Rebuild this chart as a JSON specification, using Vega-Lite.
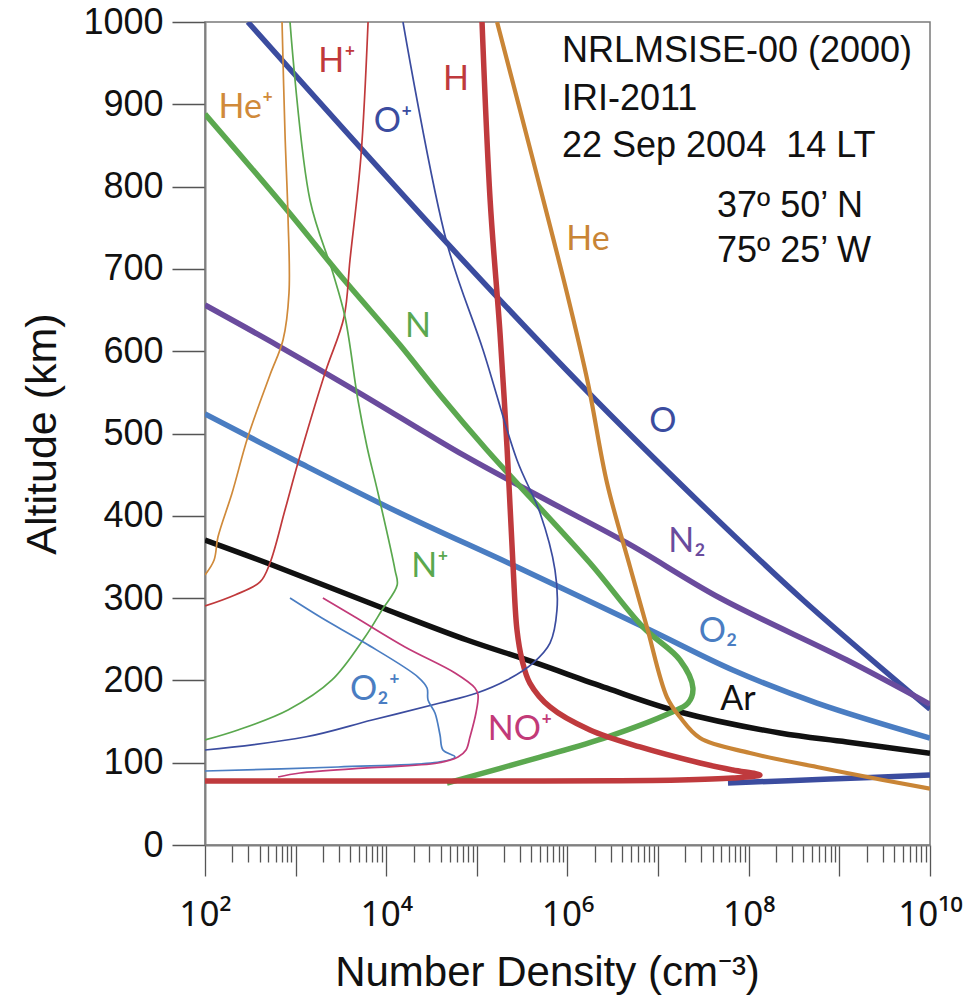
{
  "$schema": "https://vega.github.io/schema/vega-lite/v6.json",
  "width": 725,
  "height": 823,
  "autosize": {"type": "none"},
  "padding": {"left": 205, "top": 22, "right": 41, "bottom": 152},
  "background": "white",
  "config": {
    "view": {"stroke": "#7a7a7a", "strokeWidth": 1.5},
    "font": "Liberation Sans",
    "axis": {"grid": false, "domainColor": "#808080", "domainWidth": 2, "tickColor": "#555555", "tickWidth": 1.3, "labelColor": "#111111", "titleColor": "#111111", "titleFontWeight": "normal", "labelFont": "Liberation Sans", "titleFont": "Liberation Sans"}
  },
  "datasets": {
    "curves": [
      {"sp": "O", "seg": "O1", "i": 1, "n": 297, "alt": 1000},
      {"sp": "O", "seg": "O1", "i": 2, "n": 46700, "alt": 731.5},
      {"sp": "O", "seg": "O1", "i": 3, "n": 1480000, "alt": 556.5},
      {"sp": "O", "seg": "O1", "i": 4, "n": 29000000, "alt": 415.6},
      {"sp": "O", "seg": "O1", "i": 5, "n": 397000000, "alt": 297.7},
      {"sp": "O", "seg": "O1", "i": 6, "n": 10000000000, "alt": 165},
      {"sp": "O", "seg": "O2", "i": 1, "n": 59000000, "alt": 75.3},
      {"sp": "O", "seg": "O2", "i": 2, "n": 789000000, "alt": 80.2},
      {"sp": "O", "seg": "O2", "i": 3, "n": 10000000000, "alt": 85},

      {"sp": "N2", "seg": "N2", "i": 1, "n": 100, "alt": 656.1},
      {"sp": "N2", "seg": "N2", "i": 2, "n": 622, "alt": 607.5},
      {"sp": "N2", "seg": "N2", "i": 3, "n": 4870, "alt": 550.4},
      {"sp": "N2", "seg": "N2", "i": 4, "n": 73900, "alt": 472.7},
      {"sp": "N2", "seg": "N2", "i": 5, "n": 641000, "alt": 416.8},
      {"sp": "N2", "seg": "N2", "i": 6, "n": 4540000, "alt": 367.0},
      {"sp": "N2", "seg": "N2", "i": 7, "n": 48200000, "alt": 300.1},
      {"sp": "N2", "seg": "N2", "i": 8, "n": 1210000000, "alt": 224.8},
      {"sp": "N2", "seg": "N2", "i": 9, "n": 10000000000, "alt": 171},

      {"sp": "O2", "seg": "O2m", "i": 1, "n": 100, "alt": 523.7},
      {"sp": "O2", "seg": "O2m", "i": 2, "n": 1060, "alt": 465.4},
      {"sp": "O2", "seg": "O2m", "i": 3, "n": 14200, "alt": 403.4},
      {"sp": "O2", "seg": "O2m", "i": 4, "n": 277000, "alt": 337.8},
      {"sp": "O2", "seg": "O2m", "i": 5, "n": 8130000, "alt": 261.2},
      {"sp": "O2", "seg": "O2m", "i": 6, "n": 66600000, "alt": 212.6},
      {"sp": "O2", "seg": "O2m", "i": 7, "n": 566000000, "alt": 172.5},
      {"sp": "O2", "seg": "O2m", "i": 8, "n": 10000000000, "alt": 130},

      {"sp": "Ar", "seg": "Ar", "i": 1, "n": 100, "alt": 370.6},
      {"sp": "Ar", "seg": "Ar", "i": 2, "n": 483, "alt": 342.6},
      {"sp": "Ar", "seg": "Ar", "i": 3, "n": 8520, "alt": 289.2},
      {"sp": "Ar", "seg": "Ar", "i": 4, "n": 77800, "alt": 249.1},
      {"sp": "Ar", "seg": "Ar", "i": 5, "n": 416000, "alt": 222.4},
      {"sp": "Ar", "seg": "Ar", "i": 6, "n": 2730000, "alt": 190.5},
      {"sp": "Ar", "seg": "Ar", "i": 7, "n": 17400000, "alt": 161.6},
      {"sp": "Ar", "seg": "Ar", "i": 8, "n": 221000000, "alt": 136.1},
      {"sp": "Ar", "seg": "Ar", "i": 9, "n": 1210000000, "alt": 125.2},
      {"sp": "Ar", "seg": "Ar", "i": 10, "n": 10000000000, "alt": 111.3},

      {"sp": "N", "seg": "N", "i": 1, "n": 100, "alt": 888.2},
      {"sp": "N", "seg": "N", "i": 2, "n": 803, "alt": 771.6},
      {"sp": "N", "seg": "N", "i": 3, "n": 3090, "alt": 692.6},
      {"sp": "N", "seg": "N", "i": 4, "n": 14200, "alt": 607.5},
      {"sp": "N", "seg": "N", "i": 5, "n": 39200, "alt": 546.8},
      {"sp": "N", "seg": "N", "i": 6, "n": 129000, "alt": 480.0},
      {"sp": "N", "seg": "N", "i": 7, "n": 1770000, "alt": 342.6},
      {"sp": "N", "seg": "N", "i": 8, "n": 6800000, "alt": 264.9},
      {"sp": "N", "seg": "N", "i": 9, "n": 17400000, "alt": 224.8},
      {"sp": "N", "seg": "N", "i": 10, "n": 24200000, "alt": 190.8},
      {"sp": "N", "seg": "N", "i": 11, "n": 21400000, "alt": 172.5},
      {"sp": "N", "seg": "N", "i": 12, "n": 13500000, "alt": 160.4},
      {"sp": "N", "seg": "N", "i": 13, "n": 2730000, "alt": 131.2},
      {"sp": "N", "seg": "N", "i": 14, "n": 498000, "alt": 106.9},
      {"sp": "N", "seg": "N", "i": 15, "n": 46700, "alt": 75.3},

      {"sp": "He", "seg": "He", "i": 1, "n": 167000, "alt": 1000},
      {"sp": "He", "seg": "He", "i": 2, "n": 416000, "alt": 832.3},
      {"sp": "He", "seg": "He", "i": 3, "n": 986000, "alt": 670.7},
      {"sp": "He", "seg": "He", "i": 4, "n": 1680000, "alt": 561.4},
      {"sp": "He", "seg": "He", "i": 5, "n": 2730000, "alt": 439.9},
      {"sp": "He", "seg": "He", "i": 6, "n": 4900000, "alt": 337.8},
      {"sp": "He", "seg": "He", "i": 7, "n": 7520000, "alt": 264.9},
      {"sp": "He", "seg": "He", "i": 8, "n": 12500000, "alt": 179.8},
      {"sp": "He", "seg": "He", "i": 9, "n": 17400000, "alt": 155.5},
      {"sp": "He", "seg": "He", "i": 10, "n": 29000000, "alt": 130.0},
      {"sp": "He", "seg": "He", "i": 11, "n": 103000000, "alt": 111.8},
      {"sp": "He", "seg": "He", "i": 12, "n": 566000000, "alt": 94.8},
      {"sp": "He", "seg": "He", "i": 13, "n": 3020000000, "alt": 79.0},
      {"sp": "He", "seg": "He", "i": 14, "n": 10000000000, "alt": 68.5},

      {"sp": "H", "seg": "H", "i": 1, "n": 114000, "alt": 1000},
      {"sp": "H", "seg": "H", "i": 2, "n": 140000, "alt": 783.7},
      {"sp": "H", "seg": "H", "i": 3, "n": 180000, "alt": 622.1},
      {"sp": "H", "seg": "H", "i": 4, "n": 215000, "alt": 483.6},
      {"sp": "H", "seg": "H", "i": 5, "n": 251000, "alt": 337.8},
      {"sp": "H", "seg": "H", "i": 6, "n": 277000, "alt": 261.2},
      {"sp": "H", "seg": "H", "i": 7, "n": 315000, "alt": 224.8},
      {"sp": "H", "seg": "H", "i": 8, "n": 384000, "alt": 196.8},
      {"sp": "H", "seg": "H", "i": 9, "n": 641000, "alt": 167.7},
      {"sp": "H", "seg": "H", "i": 10, "n": 1770000, "alt": 139.7},
      {"sp": "H", "seg": "H", "i": 11, "n": 6310000, "alt": 119.1},
      {"sp": "H", "seg": "H", "i": 12, "n": 29000000, "alt": 99.6},
      {"sp": "H", "seg": "H", "i": 13, "n": 66600000, "alt": 91.1},
      {"sp": "H", "seg": "H", "i": 14, "n": 133000000, "alt": 85.1},
      {"sp": "H", "seg": "H", "i": 15, "n": 66600000, "alt": 81.4},
      {"sp": "H", "seg": "H", "i": 16, "n": 17400000, "alt": 79.0},
      {"sp": "H", "seg": "H", "i": 17, "n": 180000, "alt": 77.8},
      {"sp": "H", "seg": "H", "i": 18, "n": 100, "alt": 77.8},

      {"sp": "O+", "seg": "O+", "i": 1, "n": 15300, "alt": 1000},
      {"sp": "O+", "seg": "O+", "i": 2, "n": 46700, "alt": 731.5},
      {"sp": "O+", "seg": "O+", "i": 3, "n": 117000, "alt": 601.5},
      {"sp": "O+", "seg": "O+", "i": 4, "n": 277000, "alt": 467.8},
      {"sp": "O+", "seg": "O+", "i": 5, "n": 498000, "alt": 403.4},
      {"sp": "O+", "seg": "O+", "i": 6, "n": 728000, "alt": 334.1},
      {"sp": "O+", "seg": "O+", "i": 7, "n": 765000, "alt": 285.5},
      {"sp": "O+", "seg": "O+", "i": 8, "n": 641000, "alt": 245.4},
      {"sp": "O+", "seg": "O+", "i": 9, "n": 416000, "alt": 221.1},
      {"sp": "O+", "seg": "O+", "i": 10, "n": 215000, "alt": 200.5},
      {"sp": "O+", "seg": "O+", "i": 11, "n": 100000, "alt": 184.7},
      {"sp": "O+", "seg": "O+", "i": 12, "n": 39200, "alt": 172.5},
      {"sp": "O+", "seg": "O+", "i": 13, "n": 6970, "alt": 151.9},
      {"sp": "O+", "seg": "O+", "i": 14, "n": 1270, "alt": 131.2},
      {"sp": "O+", "seg": "O+", "i": 15, "n": 100, "alt": 115.4},

      {"sp": "H+", "seg": "H+", "i": 1, "n": 6300, "alt": 1000},
      {"sp": "H+", "seg": "H+", "i": 2, "n": 5250, "alt": 836.0},
      {"sp": "H+", "seg": "H+", "i": 3, "n": 3980, "alt": 710.8},
      {"sp": "H+", "seg": "H+", "i": 4, "n": 3420, "alt": 641.6},
      {"sp": "H+", "seg": "H+", "i": 5, "n": 2110, "alt": 573.5},
      {"sp": "H+", "seg": "H+", "i": 6, "n": 1060, "alt": 464.2},
      {"sp": "H+", "seg": "H+", "i": 7, "n": 763, "alt": 407.0},
      {"sp": "H+", "seg": "H+", "i": 8, "n": 521, "alt": 342.6},
      {"sp": "H+", "seg": "H+", "i": 9, "n": 405, "alt": 319.6},
      {"sp": "H+", "seg": "H+", "i": 10, "n": 214, "alt": 303.8},
      {"sp": "H+", "seg": "H+", "i": 11, "n": 100, "alt": 290.4},

      {"sp": "He+", "seg": "He+", "i": 1, "n": 708, "alt": 1000},
      {"sp": "He+", "seg": "He+", "i": 2, "n": 763, "alt": 865.1},
      {"sp": "He+", "seg": "He+", "i": 3, "n": 824, "alt": 763.1},
      {"sp": "He+", "seg": "He+", "i": 4, "n": 845, "alt": 670.7},
      {"sp": "He+", "seg": "He+", "i": 5, "n": 726, "alt": 613.6},
      {"sp": "He+", "seg": "He+", "i": 6, "n": 521, "alt": 571.1},
      {"sp": "He+", "seg": "He+", "i": 7, "n": 297, "alt": 495.7},
      {"sp": "He+", "seg": "He+", "i": 8, "n": 199, "alt": 427.7},
      {"sp": "He+", "seg": "He+", "i": 9, "n": 139, "alt": 374.2},
      {"sp": "He+", "seg": "He+", "i": 10, "n": 126, "alt": 346.3},
      {"sp": "He+", "seg": "He+", "i": 11, "n": 100, "alt": 328.1},

      {"sp": "N+", "seg": "N+", "i": 1, "n": 867, "alt": 1000},
      {"sp": "N+", "seg": "N+", "i": 2, "n": 1440, "alt": 783.7},
      {"sp": "N+", "seg": "N+", "i": 3, "n": 2580, "alt": 695.0},
      {"sp": "N+", "seg": "N+", "i": 4, "n": 3510, "alt": 641.6},
      {"sp": "N+", "seg": "N+", "i": 5, "n": 4870, "alt": 540.7},
      {"sp": "N+", "seg": "N+", "i": 6, "n": 6140, "alt": 483.6},
      {"sp": "N+", "seg": "N+", "i": 7, "n": 8110, "alt": 427.7},
      {"sp": "N+", "seg": "N+", "i": 8, "n": 12500, "alt": 334.1},
      {"sp": "N+", "seg": "N+", "i": 9, "n": 13200, "alt": 315.9},
      {"sp": "N+", "seg": "N+", "i": 10, "n": 8970, "alt": 285.5},
      {"sp": "N+", "seg": "N+", "i": 11, "n": 5830, "alt": 252.7},
      {"sp": "N+", "seg": "N+", "i": 12, "n": 2520, "alt": 200.5},
      {"sp": "N+", "seg": "N+", "i": 13, "n": 824, "alt": 164.0},
      {"sp": "N+", "seg": "N+", "i": 14, "n": 231, "alt": 139.7},
      {"sp": "N+", "seg": "N+", "i": 15, "n": 100, "alt": 127.6},

      {"sp": "O2+", "seg": "O2+", "i": 1, "n": 867, "alt": 300.1},
      {"sp": "O2+", "seg": "O2+", "i": 2, "n": 1950, "alt": 275.8},
      {"sp": "O2+", "seg": "O2+", "i": 3, "n": 5830, "alt": 245.4},
      {"sp": "O2+", "seg": "O2+", "i": 4, "n": 22400, "alt": 204.1},
      {"sp": "O2+", "seg": "O2+", "i": 5, "n": 28200, "alt": 190.8},
      {"sp": "O2+", "seg": "O2+", "i": 6, "n": 28900, "alt": 176.2},
      {"sp": "O2+", "seg": "O2+", "i": 7, "n": 34500, "alt": 160.4},
      {"sp": "O2+", "seg": "O2+", "i": 8, "n": 39200, "alt": 133.7},
      {"sp": "O2+", "seg": "O2+", "i": 9, "n": 42200, "alt": 115.4},
      {"sp": "O2+", "seg": "O2+", "i": 10, "n": 57400, "alt": 106.9},
      {"sp": "O2+", "seg": "O2+", "i": 11, "n": 39200, "alt": 100.9},
      {"sp": "O2+", "seg": "O2+", "i": 12, "n": 2940, "alt": 94.8},
      {"sp": "O2+", "seg": "O2+", "i": 13, "n": 100, "alt": 89.9},

      {"sp": "NO+", "seg": "NO+", "i": 1, "n": 2000, "alt": 300.1},
      {"sp": "NO+", "seg": "NO+", "i": 2, "n": 4520, "alt": 277.0},
      {"sp": "NO+", "seg": "NO+", "i": 3, "n": 16100, "alt": 240.6},
      {"sp": "NO+", "seg": "NO+", "i": 4, "n": 57400, "alt": 209.0},
      {"sp": "NO+", "seg": "NO+", "i": 5, "n": 95200, "alt": 190.8},
      {"sp": "NO+", "seg": "NO+", "i": 6, "n": 103000, "alt": 182.3},
      {"sp": "NO+", "seg": "NO+", "i": 7, "n": 97700, "alt": 160.4},
      {"sp": "NO+", "seg": "NO+", "i": 8, "n": 83900, "alt": 131.2},
      {"sp": "NO+", "seg": "NO+", "i": 9, "n": 75900, "alt": 115.4},
      {"sp": "NO+", "seg": "NO+", "i": 10, "n": 61900, "alt": 106.9},
      {"sp": "NO+", "seg": "NO+", "i": 11, "n": 37200, "alt": 99.6},
      {"sp": "NO+", "seg": "NO+", "i": 12, "n": 6140, "alt": 93.6},
      {"sp": "NO+", "seg": "NO+", "i": 13, "n": 1120, "alt": 87.5},
      {"sp": "NO+", "seg": "NO+", "i": 14, "n": 640, "alt": 82.6}
    ],
    "labels": [
      {"sp": "He+", "label": "He⁺", "n": 283, "alt": 895.5},
      {"sp": "H+", "label": "H⁺", "n": 2860, "alt": 951.4},
      {"sp": "O+", "label": "O⁺", "n": 11900, "alt": 878.5},
      {"sp": "H", "label": "H", "n": 58900, "alt": 929.5},
      {"sp": "N", "label": "N", "n": 22400, "alt": 629.4},
      {"sp": "He", "label": "He", "n": 1680000, "alt": 735.1},
      {"sp": "O", "label": "O", "n": 11300000, "alt": 514.0},
      {"sp": "N2", "label": "N₂", "n": 20800000, "alt": 368.2},
      {"sp": "O2", "label": "O₂", "n": 45800000, "alt": 258.8},
      {"sp": "Ar", "label": "Ar", "n": 76000000, "alt": 176.2},
      {"sp": "N+", "label": "N⁺", "n": 30400, "alt": 337.8},
      {"sp": "O2+", "label": "O₂⁺", "n": 7520, "alt": 188.3},
      {"sp": "NO+", "label": "NO⁺", "n": 299000, "alt": 139.7}
    ],
    "notes": [
      {"text": "NRLMSISE-00 (2000)", "n": 869000, "alt": 951},
      {"text": "IRI-2011", "n": 869000, "alt": 893},
      {"text": "22 Sep 2004\u00a0\u00a014 LT", "n": 869000, "alt": 836},
      {"text": "37º 50’ N", "n": 44700000, "alt": 763},
      {"text": "75º 25’ W", "n": 44700000, "alt": 708}
    ]
  },
  "layer": [
    {
      "data": {"name": "curves"},
      "transform": [{"filter": {"field": "sp", "oneOf": ["O", "N2", "O2", "Ar", "N", "H"]}}],
      "mark": {"type": "line", "clip": true, "strokeWidth": 5.5, "strokeJoin": "round", "interpolate": "catmull-rom"},
      "encoding": {
        "x": {
          "field": "n", "type": "quantitative",
          "scale": {"type": "log", "domain": [100, 10000000000], "nice": false},
          "axis": {
            "title": "Number Density (cm⁻³)",
            "values": [100,200,300,400,500,600,700,800,900,1000,2000,3000,4000,5000,6000,7000,8000,9000,10000,20000,30000,40000,50000,60000,70000,80000,90000,100000,200000,300000,400000,500000,600000,700000,800000,900000,1000000,2000000,3000000,4000000,5000000,6000000,7000000,8000000,9000000,10000000,20000000,30000000,40000000,50000000,60000000,70000000,80000000,90000000,100000000,200000000,300000000,400000000,500000000,600000000,700000000,800000000,900000000,1000000000,2000000000,3000000000,4000000000,5000000000,6000000000,7000000000,8000000000,9000000000,10000000000],
            "tickSize": {"condition": {"test": "abs(log(datum.value)/LN10 - round(log(datum.value)/LN10)) < 0.001", "value": 31}, "value": 17},
            "labelExpr": "datum.value == 100 ? '10²' : datum.value == 10000 ? '10⁴' : datum.value == 1000000 ? '10⁶' : datum.value == 100000000 ? '10⁸' : datum.value == 10000000000 ? '10¹⁰' : ''",
            "labelOverlap": false, "labelFlush": false, "labelBound": false,
            "labelFont": "Noto Sans",
            "labelFontSize": 35, "labelPadding": 21,
            "titleFontSize": 42, "titlePadding": 20,
            "titleAnchor": "middle", "titleX": 342
          }
        },
        "y": {
          "field": "alt", "type": "quantitative",
          "scale": {"domain": [0, 1000], "nice": false},
          "axis": {
            "title": "Altitude (km)",
            "format": "d",
            "values": [0,100,200,300,400,500,600,700,800,900,1000],
            "tickSize": 33, "labelFontSize": 36, "labelPadding": 9,
            "titleFontSize": 43, "titlePadding": 18
          }
        },
        "color": {
          "field": "sp", "type": "nominal", "legend": null,
          "scale": {
            "domain": ["O", "N2", "O2", "Ar", "N", "He", "H", "O+", "H+", "He+", "N+", "O2+", "NO+"],
            "range": ["#3b4c9f", "#6a4b9d", "#4a7dc2", "#111111", "#5ba84f", "#c98536", "#bf3a3d", "#3b4c9f", "#c0393b", "#d08a3a", "#5aa84e", "#4a7dc2", "#c23a78"]
          }
        },
        "detail": {"field": "seg"},
        "order": {"field": "i", "type": "quantitative"}
      }
    },
    {
      "data": {"name": "curves"},
      "transform": [{"filter": {"field": "sp", "equal": "He"}}],
      "mark": {"type": "line", "clip": true, "strokeWidth": 4.2, "strokeJoin": "round", "interpolate": "catmull-rom"},
      "encoding": {
        "x": {"field": "n", "type": "quantitative"},
        "y": {"field": "alt", "type": "quantitative"},
        "color": {"field": "sp", "type": "nominal", "legend": null},
        "detail": {"field": "seg"},
        "order": {"field": "i", "type": "quantitative"}
      }
    },
    {
      "data": {"name": "curves"},
      "transform": [{"filter": {"field": "sp", "oneOf": ["O+", "H+", "He+", "N+", "O2+", "NO+"]}}],
      "mark": {"type": "line", "clip": true, "strokeWidth": 1.7, "strokeJoin": "round", "interpolate": "catmull-rom"},
      "encoding": {
        "x": {"field": "n", "type": "quantitative"},
        "y": {"field": "alt", "type": "quantitative"},
        "color": {"field": "sp", "type": "nominal", "legend": null},
        "detail": {"field": "seg"},
        "order": {"field": "i", "type": "quantitative"}
      }
    },
    {
      "data": {"name": "labels"},
      "mark": {"type": "text", "font": "Lato", "fontSize": 34, "align": "center", "baseline": "middle"},
      "encoding": {
        "x": {"field": "n", "type": "quantitative"},
        "y": {"field": "alt", "type": "quantitative"},
        "text": {"field": "label"},
        "color": {"field": "sp", "type": "nominal", "legend": null}
      }
    },
    {
      "data": {"name": "notes"},
      "mark": {"type": "text", "font": "Liberation Sans", "fontSize": 36, "align": "left", "baseline": "alphabetic", "color": "#111111"},
      "encoding": {
        "x": {"field": "n", "type": "quantitative"},
        "y": {"field": "alt", "type": "quantitative"},
        "text": {"field": "text"}
      }
    }
  ]
}
